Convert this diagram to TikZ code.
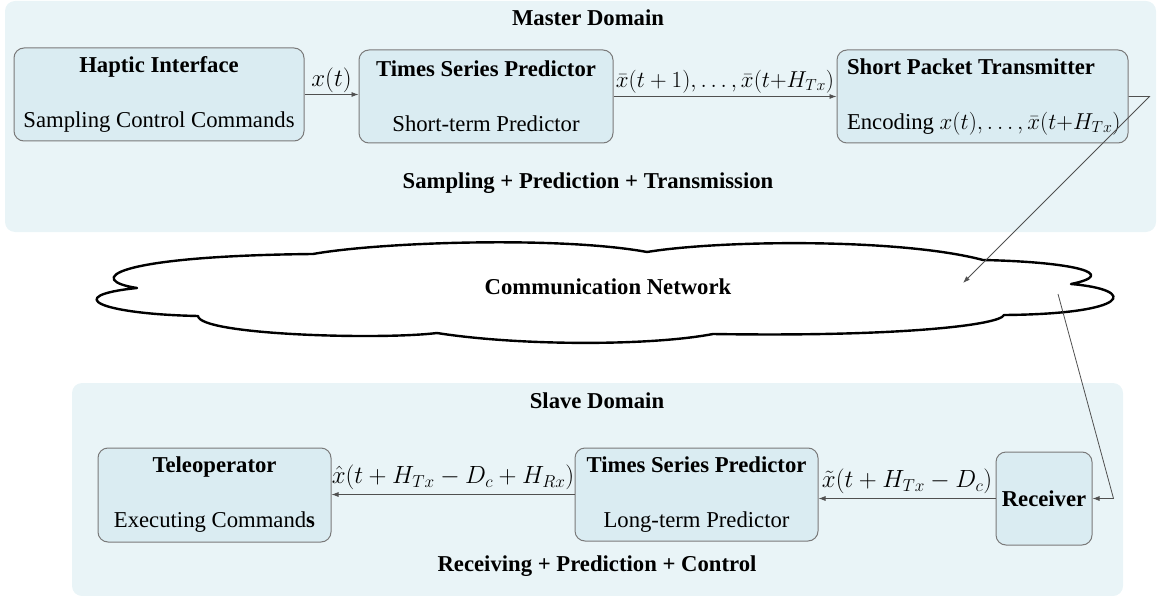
\documentclass[tikz,border=0pt]{standalone}
\usepackage{fontspec}
\usepackage{graphicx}
\setmainfont{Liberation Serif}
\usetikzlibrary{arrows.meta}

\definecolor{panelbg}{HTML}{E9F4F7}
\definecolor{boxbg}{HTML}{DAECF2}
\definecolor{boxline}{HTML}{7A7A7A}
\definecolor{wire}{HTML}{505050}

% formulas are set a little larger than the running text
\newcommand{\bigmath}[1]{{\fontsize{24}{27}\selectfont$#1$}}
% same, slightly condensed for the long sequences
\newcommand{\seqmath}[1]{\scalebox{0.925}{\bigmath{#1}}}
% one left-aligned line of fixed width
\newcommand{\flushrow}[1]{\makebox[271pt][l]{#1}}

\begin{document}
\begin{tikzpicture}[x=1pt,y=-1pt,
  font=\fontsize{22.7}{27}\selectfont,
  panel/.style={fill=panelbg, draw=none, rounded corners=10pt},
  blockbox/.style={draw=boxline, fill=boxbg, line width=1pt, rounded corners=10pt,
                   inner sep=0pt, align=center, minimum height=93pt},
  heading/.style={font=\fontsize{22.7}{27}\selectfont\bfseries, inner sep=0pt},
  flow/.style={draw=wire, line width=0.8pt, -{Latex[length=7pt,width=5pt]}},
  cloudline/.style={draw=black, fill=white, line width=2.4pt, line join=round}
]
\useasboundingbox (0,0) rectangle (1158,596);

% domain panels
\fill[panel] (5,1) rectangle (1156,232);
\fill[panel] (72,383) rectangle (1123,596);

\node[heading] (mastertitle) at (588,18) {Master Domain};
\node[heading] (mastertask) at (588,183) {Sampling + Prediction + Transmission};
\node[heading] (slavetitle) at (597,401) {Slave Domain};
\node[heading] (slavetask) at (597,566) {Receiving + Prediction + Control};

% master side blocks
\node[blockbox, minimum width=290pt] (haptic) at (159,94.5)
  {\textbf{Haptic Interface}\\[28pt]Sampling Control Commands};
\node[blockbox, minimum width=254pt] (tsp1) at (486,96.5)
  {\textbf{Times Series Predictor}\\[28pt]Short-term Predictor};
\node[blockbox, minimum width=291pt, align=left] (spt) at (982.5,96.5)
  {\flushrow{\textbf{Short Packet Transmitter}}\\[28pt]%
   \flushrow{Encoding \seqmath{x(t),\ldots,\bar{x}(t{+}H_{Tx})}}};

% slave side blocks
\node[blockbox, minimum width=233pt, minimum height=94pt] (tele) at (214.5,495)
  {\textbf{Teleoperator}\\[28pt]Executing Command\textbf{s}};
\node[blockbox, minimum width=243pt] (tsp2) at (696.5,494.5)
  {\textbf{Times Series Predictor}\\[28pt]Long-term Predictor};
\node[blockbox, minimum width=96pt] (recv) at (1044,498.5) {\textbf{Receiver}};

% network cloud
\draw[cloudline]
  (137,288) .. controls (85,280) and (110,256) .. (313,254)
  .. controls (380,242) and (560,236) .. (647,252)
  .. controls (720,240) and (900,238) .. (983,260)
  .. controls (1075,262) and (1120,274) .. (1071,284)
  .. controls (1140,290) and (1130,314) .. (1004,315)
  .. controls (1000,325) and (900,337) .. (713,334)
  .. controls (650,346) and (520,346) .. (437,333)
  .. controls (380,340) and (200,335) .. (198,316)
  .. controls (100,314) and (60,296) .. cycle;
\node[heading] (net) at (608,287) {Communication Network};

% master chain
\draw[flow] (haptic.east) -- (haptic.east -| tsp1.west)
  node[midway, above=1pt, inner sep=0pt] (lx) {\bigmath{x(t)}};
\draw[flow] (tsp1.east) -- (tsp1.east -| spt.west)
  node[midway, above=3pt, inner sep=0pt] (lxbar) {\seqmath{\bar{x}(t+1),\ldots,\bar{x}(t{+}H_{Tx})}};

% into and out of the network
\coordinate (sptcorner) at ([xshift=21pt]spt.east);
\coordinate (netin) at (963,283);
\draw[flow] (spt.east) -- (sptcorner) -- (netin);
\coordinate (netout) at (1058,294);
\coordinate (rxcorner) at ([xshift=21pt]recv.east);
\draw[flow] (netout) -- (rxcorner) -- (recv.east);

% slave chain
\draw[flow] (recv.west) -- (recv.west -| tsp2.east)
  node[midway, above=4pt, inner sep=0pt] (lxtilde) {\bigmath{\tilde{x}(t+H_{Tx}-D_c)}};
\draw[flow] (tsp2.west) -- (tsp2.west -| tele.east)
  node[midway, above=4pt, inner sep=0pt] (lxhat) {\bigmath{\hat{x}(t+H_{Tx}-D_c+H_{Rx})}};
\end{tikzpicture}
\end{document}
